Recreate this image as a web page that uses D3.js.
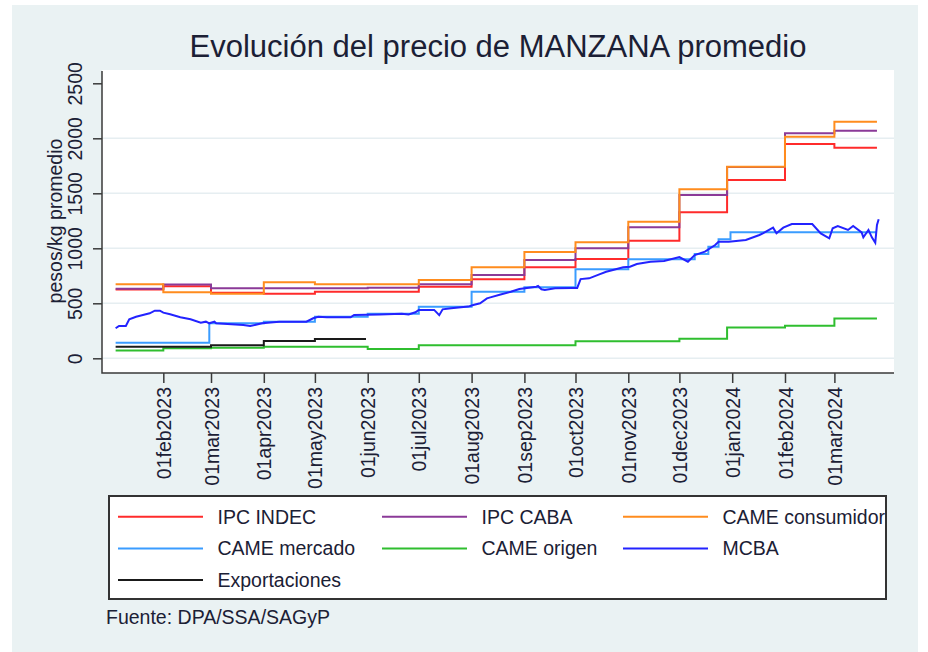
<!DOCTYPE html>
<meta charset="utf-8">
<style>
body { margin: 0; background: #fff; }
text { font-family: "Liberation Sans", Arial, sans-serif; fill: #1b2035; }
.axis path { display: none; }
.axis line { stroke: #3a3a3a; stroke-width: 1.5; }
.grid line { stroke: #e6eef1; stroke-width: 1.5; }
</style>
<body>
<script src="https://cdn.jsdelivr.net/npm/d3@7"></script>
<script>

var width = 928,
    height = 652;

// monthly step series: value in force from each change date
var stepDates = ["2023-01-04", "2023-02-01", "2023-03-01", "2023-04-01", "2023-05-01", "2023-06-01",
                 "2023-07-01", "2023-08-01", "2023-09-01", "2023-10-01", "2023-11-01", "2023-12-01",
                 "2023-12-29", "2024-02-01", "2024-03-01"];
var endDate = "2024-03-26";

var ipcIndec       = [625, 655, 596, 587, 605, 605, 651, 718, 827, 903, 1069, 1327, 1621, 1948, 1915];
var ipcCaba        = [632, 670, 636, 636, 636, 642, 673, 757, 894, 1000, 1191, 1484, 1740, 2045, 2069];
var cameConsumidor = [673, 600, 587, 691, 673, 673, 712, 827, 966, 1054, 1242, 1536, 1742, 2015, 2151];
var cameOrigen     = [72, 92, 95, 105, 105, 85, 118, 118, 118, 155, 155, 178, 280, 295, 362];
var exportaciones  = [105, 105, 118, 157, 175];
var exportEnd = "2023-05-31";

var cameMercado = [
  ["2023-01-04", 142], ["2023-02-28", 318], ["2023-04-01", 333], ["2023-05-01", 378],
  ["2023-06-01", 405], ["2023-07-01", 469], ["2023-08-01", 605], ["2023-09-01", 645],
  ["2023-10-01", 810], ["2023-11-01", 900], ["2023-12-10", 948], ["2023-12-18", 1015],
  ["2023-12-24", 1082], ["2023-12-31", 1145], ["2024-03-26", 1145]
];

var mcba = [
  ["2023-01-04", 273], ["2023-01-06", 294], ["2023-01-10", 294], ["2023-01-12", 355],
  ["2023-01-16", 378], ["2023-01-20", 394], ["2023-01-24", 409], ["2023-01-27", 433],
  ["2023-01-30", 433], ["2023-02-01", 415], ["2023-02-05", 400], ["2023-02-11", 373],
  ["2023-02-17", 355], ["2023-02-23", 324], ["2023-02-26", 333], ["2023-02-28", 318],
  ["2023-03-03", 333], ["2023-03-04", 318], ["2023-03-20", 303], ["2023-03-24", 294],
  ["2023-03-31", 318], ["2023-04-10", 333], ["2023-04-26", 333], ["2023-04-30", 364],
  ["2023-05-03", 378], ["2023-05-08", 373], ["2023-05-22", 373], ["2023-05-24", 394],
  ["2023-06-08", 398], ["2023-06-21", 405], ["2023-06-25", 398], ["2023-06-29", 418],
  ["2023-07-01", 440], ["2023-07-10", 440], ["2023-07-13", 392], ["2023-07-15", 445],
  ["2023-07-20", 455], ["2023-07-30", 470], ["2023-08-02", 485], ["2023-08-06", 500],
  ["2023-08-10", 545], ["2023-08-12", 554], ["2023-08-18", 580], ["2023-08-24", 605],
  ["2023-08-29", 630], ["2023-09-08", 651], ["2023-09-09", 657], ["2023-09-11", 627],
  ["2023-09-13", 621], ["2023-09-19", 636], ["2023-09-29", 640], ["2023-10-02", 640],
  ["2023-10-04", 720], ["2023-10-09", 727], ["2023-10-15", 763], ["2023-10-19", 787],
  ["2023-10-23", 803], ["2023-10-29", 827], ["2023-11-02", 833], ["2023-11-06", 857],
  ["2023-11-14", 878], ["2023-11-22", 884], ["2023-12-01", 920], ["2023-12-06", 878],
  ["2023-12-10", 939], ["2023-12-16", 969], ["2023-12-22", 1030], ["2023-12-24", 1060],
  ["2023-12-30", 1060], ["2024-01-09", 1075], ["2024-01-17", 1121], ["2024-01-19", 1136],
  ["2024-01-25", 1188], ["2024-01-27", 1136], ["2024-01-31", 1188], ["2024-02-05", 1221],
  ["2024-02-17", 1221], ["2024-02-22", 1136], ["2024-02-27", 1091], ["2024-02-29", 1182],
  ["2024-03-03", 1203], ["2024-03-09", 1167], ["2024-03-12", 1203], ["2024-03-17", 1145],
  ["2024-03-18", 1100], ["2024-03-21", 1167], ["2024-03-23", 1100], ["2024-03-25", 1051],
  ["2024-03-26", 1212], ["2024-03-27", 1264]
];

var yTicks = [0, 500, 1000, 1500, 2000, 2500];
var xTicks = ["2023-02-01", "2023-03-01", "2023-04-01", "2023-05-01", "2023-06-01", "2023-07-01",
              "2023-08-01", "2023-09-01", "2023-10-01", "2023-11-01", "2023-12-01", "2024-01-01",
              "2024-02-01", "2024-03-01"];

var legendNames = ["IPC INDEC", "IPC CABA", "CAME consumidor", "CAME mercado", "CAME origen", "MCBA", "Exportaciones"];
var colors = ["#ff2b2b", "#8b3a98", "#ff8c1e", "#3a9cff", "#2fbe2f", "#2323ff", "#1a1a1a"];

var parse = d3.utcParse("%Y-%m-%d");
var fmt = d3.utcFormat("%d%b%Y");

var x = d3.scaleUtc()
    .domain([parse("2022-12-27"), parse("2024-04-05")])
    .range([102, 894]);

var y = d3.scaleLinear()
    .domain([0, 2500])
    .range([358.3, 83.3]);

function monthly(vals, end) {
  var pts = vals.map(function(v, i) { return [parse(stepDates[i]), v]; });
  pts.push([parse(end), vals[vals.length - 1]]);
  return pts;
}
function dated(arr) {
  return arr.map(function(d) { return [parse(d[0]), d[1]]; });
}

var series = [
  monthly(ipcIndec, endDate),
  monthly(ipcCaba, endDate),
  monthly(cameConsumidor, endDate),
  dated(cameMercado),
  monthly(cameOrigen, endDate),
  dated(mcba),
  monthly(exportaciones, exportEnd)
];

var svg = d3.select("body").append("svg")
    .attr("width", width)
    .attr("height", height);

svg.append("rect")
    .attr("x", 12).attr("y", 5)
    .attr("width", 906).attr("height", 647)
    .attr("fill", "#eaf2f3");

svg.append("rect")
    .attr("x", 102).attr("y", 70)
    .attr("width", 792).attr("height", 303)
    .attr("fill", "#fff");

svg.append("text")
    .attr("x", 498).attr("y", 57)
    .attr("text-anchor", "middle")
    .style("font-size", "31px")
    .text("Evolución del precio de MANZANA promedio");

// grid
svg.append("g").attr("class", "grid")
  .selectAll("line")
    .data(yTicks.slice(0, 5))
  .enter().append("line")
    .attr("x1", 102).attr("x2", 894)
    .attr("y1", function(d) { return y(d); })
    .attr("y2", function(d) { return y(d); });

// y axis
var gy = svg.append("g")
    .attr("class", "axis")
    .attr("transform", "translate(102,0)")
    .call(d3.axisLeft(y).tickValues(yTicks).tickSize(9).tickFormat(d3.format("d")));
gy.selectAll("text")
    .attr("transform", "rotate(-90)")
    .attr("x", 0).attr("y", -20).attr("dy", 0)
    .attr("text-anchor", "middle")
    .style("font-size", "19.5px");

// x axis
var gx = svg.append("g")
    .attr("class", "axis")
    .attr("transform", "translate(0,373)")
    .call(d3.axisBottom(x).tickValues(xTicks.map(parse)).tickSize(10)
      .tickFormat(function(d) { return fmt(d).toLowerCase(); }));
gx.selectAll("text")
    .attr("transform", "rotate(-90)")
    .attr("x", -14).attr("y", 0).attr("dy", "0.36em")
    .attr("text-anchor", "end")
    .style("font-size", "19.5px");

svg.append("path")
    .attr("d", "M102,71V373H894")
    .attr("fill", "none")
    .attr("stroke", "#3a3a3a")
    .attr("stroke-width", 1.5);

svg.append("text")
    .attr("transform", "translate(62,221) rotate(-90)")
    .attr("text-anchor", "middle")
    .style("font-size", "19.5px")
    .text("pesos/kg promedio");

// lines
var line = d3.line()
    .x(function(d) { return x(d[0]); })
    .y(function(d) { return y(d[1]); });

svg.append("g").selectAll("path")
    .data(series)
  .enter().append("path")
    .attr("fill", "none")
    .attr("stroke", function(d, i) { return colors[i]; })
    .attr("stroke-width", 2)
    .attr("d", function(d, i) {
      return line.curve(i === 5 ? d3.curveLinear : d3.curveStepAfter)(d);
    });

// legend
svg.append("clipPath").attr("id", "legclip")
  .append("rect")
    .attr("x", 109).attr("y", 496)
    .attr("width", 777).attr("height", 103);

svg.append("rect")
    .attr("x", 109).attr("y", 496)
    .attr("width", 777).attr("height", 103)
    .attr("fill", "#fff")
    .attr("stroke", "#333")
    .attr("stroke-width", 2);

var lineX = [118, 382, 623];
var legend = svg.append("g").attr("clip-path", "url(#legclip)")
  .selectAll("g")
    .data(legendNames)
  .enter().append("g")
    .attr("transform", function(d, i) {
      return "translate(" + lineX[i % 3] + "," + (516.7 + Math.floor(i / 3) * 31.7) + ")";
    });

legend.append("line")
    .attr("x1", 0).attr("x2", 85)
    .attr("stroke", function(d, i) { return colors[i]; })
    .attr("stroke-width", 2);

legend.append("text")
    .attr("x", 99.5)
    .attr("dy", "0.35em")
    .style("font-size", "19.5px")
    .text(function(d) { return d; });

svg.append("text")
    .attr("x", 106).attr("y", 624)
    .style("font-size", "19.5px")
    .text("Fuente: DPA/SSA/SAGyP");

</script>
